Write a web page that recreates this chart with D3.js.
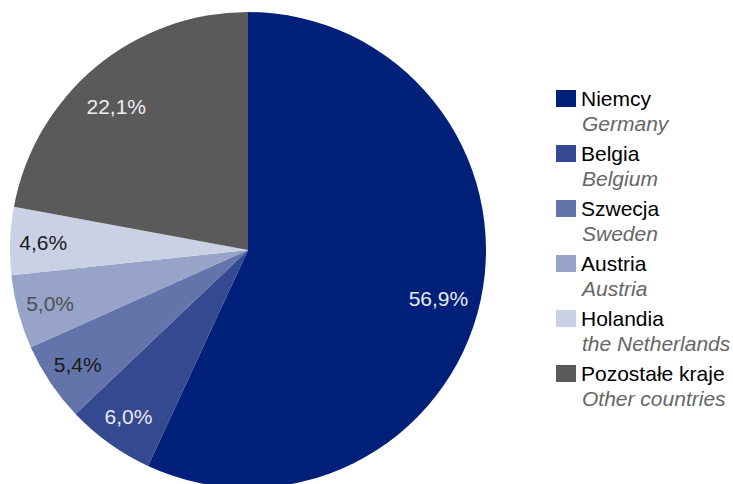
<!DOCTYPE html>
<html>
<head>
<meta charset="utf-8">
<script src="https://cdn.jsdelivr.net/npm/d3@7"></script>
<style>
  body { margin: 0; background: #fff; }
  text { font-family: "Liberation Sans", Arial, sans-serif; }
</style>
</head>
<body>
<div id="chart"></div>
<script>
var svgWidth = 733;
var svgHeight = 484;

// data
var namesPl = ["Niemcy", "Belgia", "Szwecja", "Austria", "Holandia", "Pozostałe kraje"];
var namesEn = ["Germany", "Belgium", "Sweden", "Austria", "the Netherlands", "Other countries"];
var shares = [56.9, 6.0, 5.4, 5.0, 4.6, 22.1];

var colors = ["#00207a", "#34498f", "#6374ab", "#97a3c8", "#cbd1e4", "#5a5a5a"];
var labelColors = ["#e8eaf2", "#e8eaf2", "#1a1a1a", "#505050", "#1a1a1a", "#eeeeee"];

var cx = 248, cy = 250, radius = 238;

var svg = d3.select("#chart")
  .append("svg")
  .attr("width", svgWidth)
  .attr("height", svgHeight);

var pieGroup = svg.append("g")
  .attr("transform", `translate(${cx}, ${cy})`);

var pie = d3.pie().sort(null).value(d => d);
var arcs = pie(shares);

var arc = d3.arc().innerRadius(0).outerRadius(radius);

pieGroup.selectAll("path")
  .data(arcs)
  .enter()
  .append("path")
  .attr("d", arc)
  .attr("fill", (d, i) => colors[i]);

// labels: big slices sit a bit further in and a touch lower
pieGroup.selectAll("text")
  .data(arcs)
  .enter()
  .append("text")
  .attr("transform", function(d) {
    var big = d.value > 15;
    var r = big ? 195 : 205;
    var c = d3.arc().innerRadius(r).outerRadius(r).centroid(d);
    return `translate(${c[0] - (big && c[0] < 0 ? 7 : 0)}, ${c[1] + (big ? 6 : 0)})`;
  })
  .attr("text-anchor", "middle")
  .attr("dy", "0.36em")
  .attr("font-size", 21)
  .attr("fill", (d, i) => labelColors[i])
  .text(d => d3.format(".1f")(d.value).replace(".", ",") + "%");

// legend
var legend = svg.append("g")
  .attr("transform", "translate(556, 90)");

var items = legend.selectAll("g")
  .data(namesPl)
  .enter()
  .append("g")
  .attr("transform", (d, i) => `translate(0, ${i * 55})`);

items.append("rect")
  .attr("width", 20)
  .attr("height", 17)
  .attr("fill", (d, i) => colors[i]);

items.append("text")
  .attr("x", 25)
  .attr("y", 16)
  .attr("font-size", 21)
  .attr("fill", "#000")
  .text(d => d);

items.append("text")
  .attr("x", 26)
  .attr("y", 41)
  .attr("font-size", 21)
  .attr("font-style", "italic")
  .attr("fill", "#666")
  .text((d, i) => namesEn[i]);
</script>
</body>
</html>
